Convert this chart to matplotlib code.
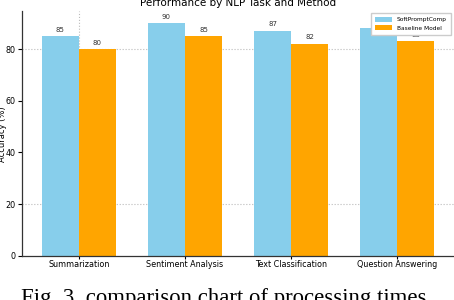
import numpy as np
import matplotlib
matplotlib.use("Agg")
import matplotlib.pyplot as plt

tasks = ["Summarization", "Sentiment Analysis", "Text Classification", "Question Answering"]
soft_prompt = [85, 90, 87, 88]
baseline = [80, 85, 82, 83]
series_names = ["SoftPromptComp", "Baseline Model"]
grid_y = [20, 80]   # only these gridlines show in the picture

fig = plt.figure(figsize=(4.54, 3.0), dpi=100)
ax = fig.add_axes([0.0485, 0.1467, 0.9515, 0.815])

x = np.arange(len(tasks))
w = 0.35
b1 = ax.bar(x - w / 2, soft_prompt, w, color="#87CEEB", label=series_names[0], zorder=2)
b2 = ax.bar(x + w / 2, baseline, w, color="#FFA500", label=series_names[1], zorder=2)

for bars in (b1, b2):
    for r in bars:
        ax.annotate(f"{r.get_height():.0f}", (r.get_x() + r.get_width() / 2, r.get_height()),
                    xytext=(0, 2.5), textcoords="offset points", ha="center", va="bottom",
                    fontsize=5, color="#333333")

for g in grid_y:
    ax.axhline(g, color="#bbbbbb", linestyle=":", linewidth=0.8, zorder=0)
ax.axvline(x[0], color="#bbbbbb", linestyle=":", linewidth=0.8, zorder=0)

ax.set_xticks(x)
ax.set_xticklabels(tasks, fontsize=5.8)
ax.tick_params(axis="y", labelsize=5.8, length=3, width=0.8, pad=1.5)
ax.tick_params(axis="x", length=2, width=0.8, pad=0.8)
ax.set_yticks([0, 20, 40, 60, 80])
ax.set_ylabel("Accuracy (%)", fontsize=6, labelpad=0)
ax.yaxis.set_label_coords(-0.034, 0.5)
ax.set_title("Performance by NLP Task and Method", fontsize=7.5, pad=4)

for s in ("top", "right"):
    ax.spines[s].set_visible(False)
for s in ("left", "bottom"):
    ax.spines[s].set_color("#333333")
    ax.spines[s].set_linewidth(0.9)

ax.legend(loc="upper right", fontsize=4.2, frameon=True, framealpha=1, edgecolor="#cccccc",
          fancybox=False, handlelength=3.0, handleheight=0.9, borderpad=0.7, labelspacing=0.5,
          borderaxespad=0, bbox_to_anchor=(0.993, 0.994))

fig.text(0.5, -0.012, "Fig. 3. comparison chart of processing times.", ha="center", va="baseline",
         fontsize=16.4, family="Liberation Serif")

fig.savefig("out.png", dpi=100)
